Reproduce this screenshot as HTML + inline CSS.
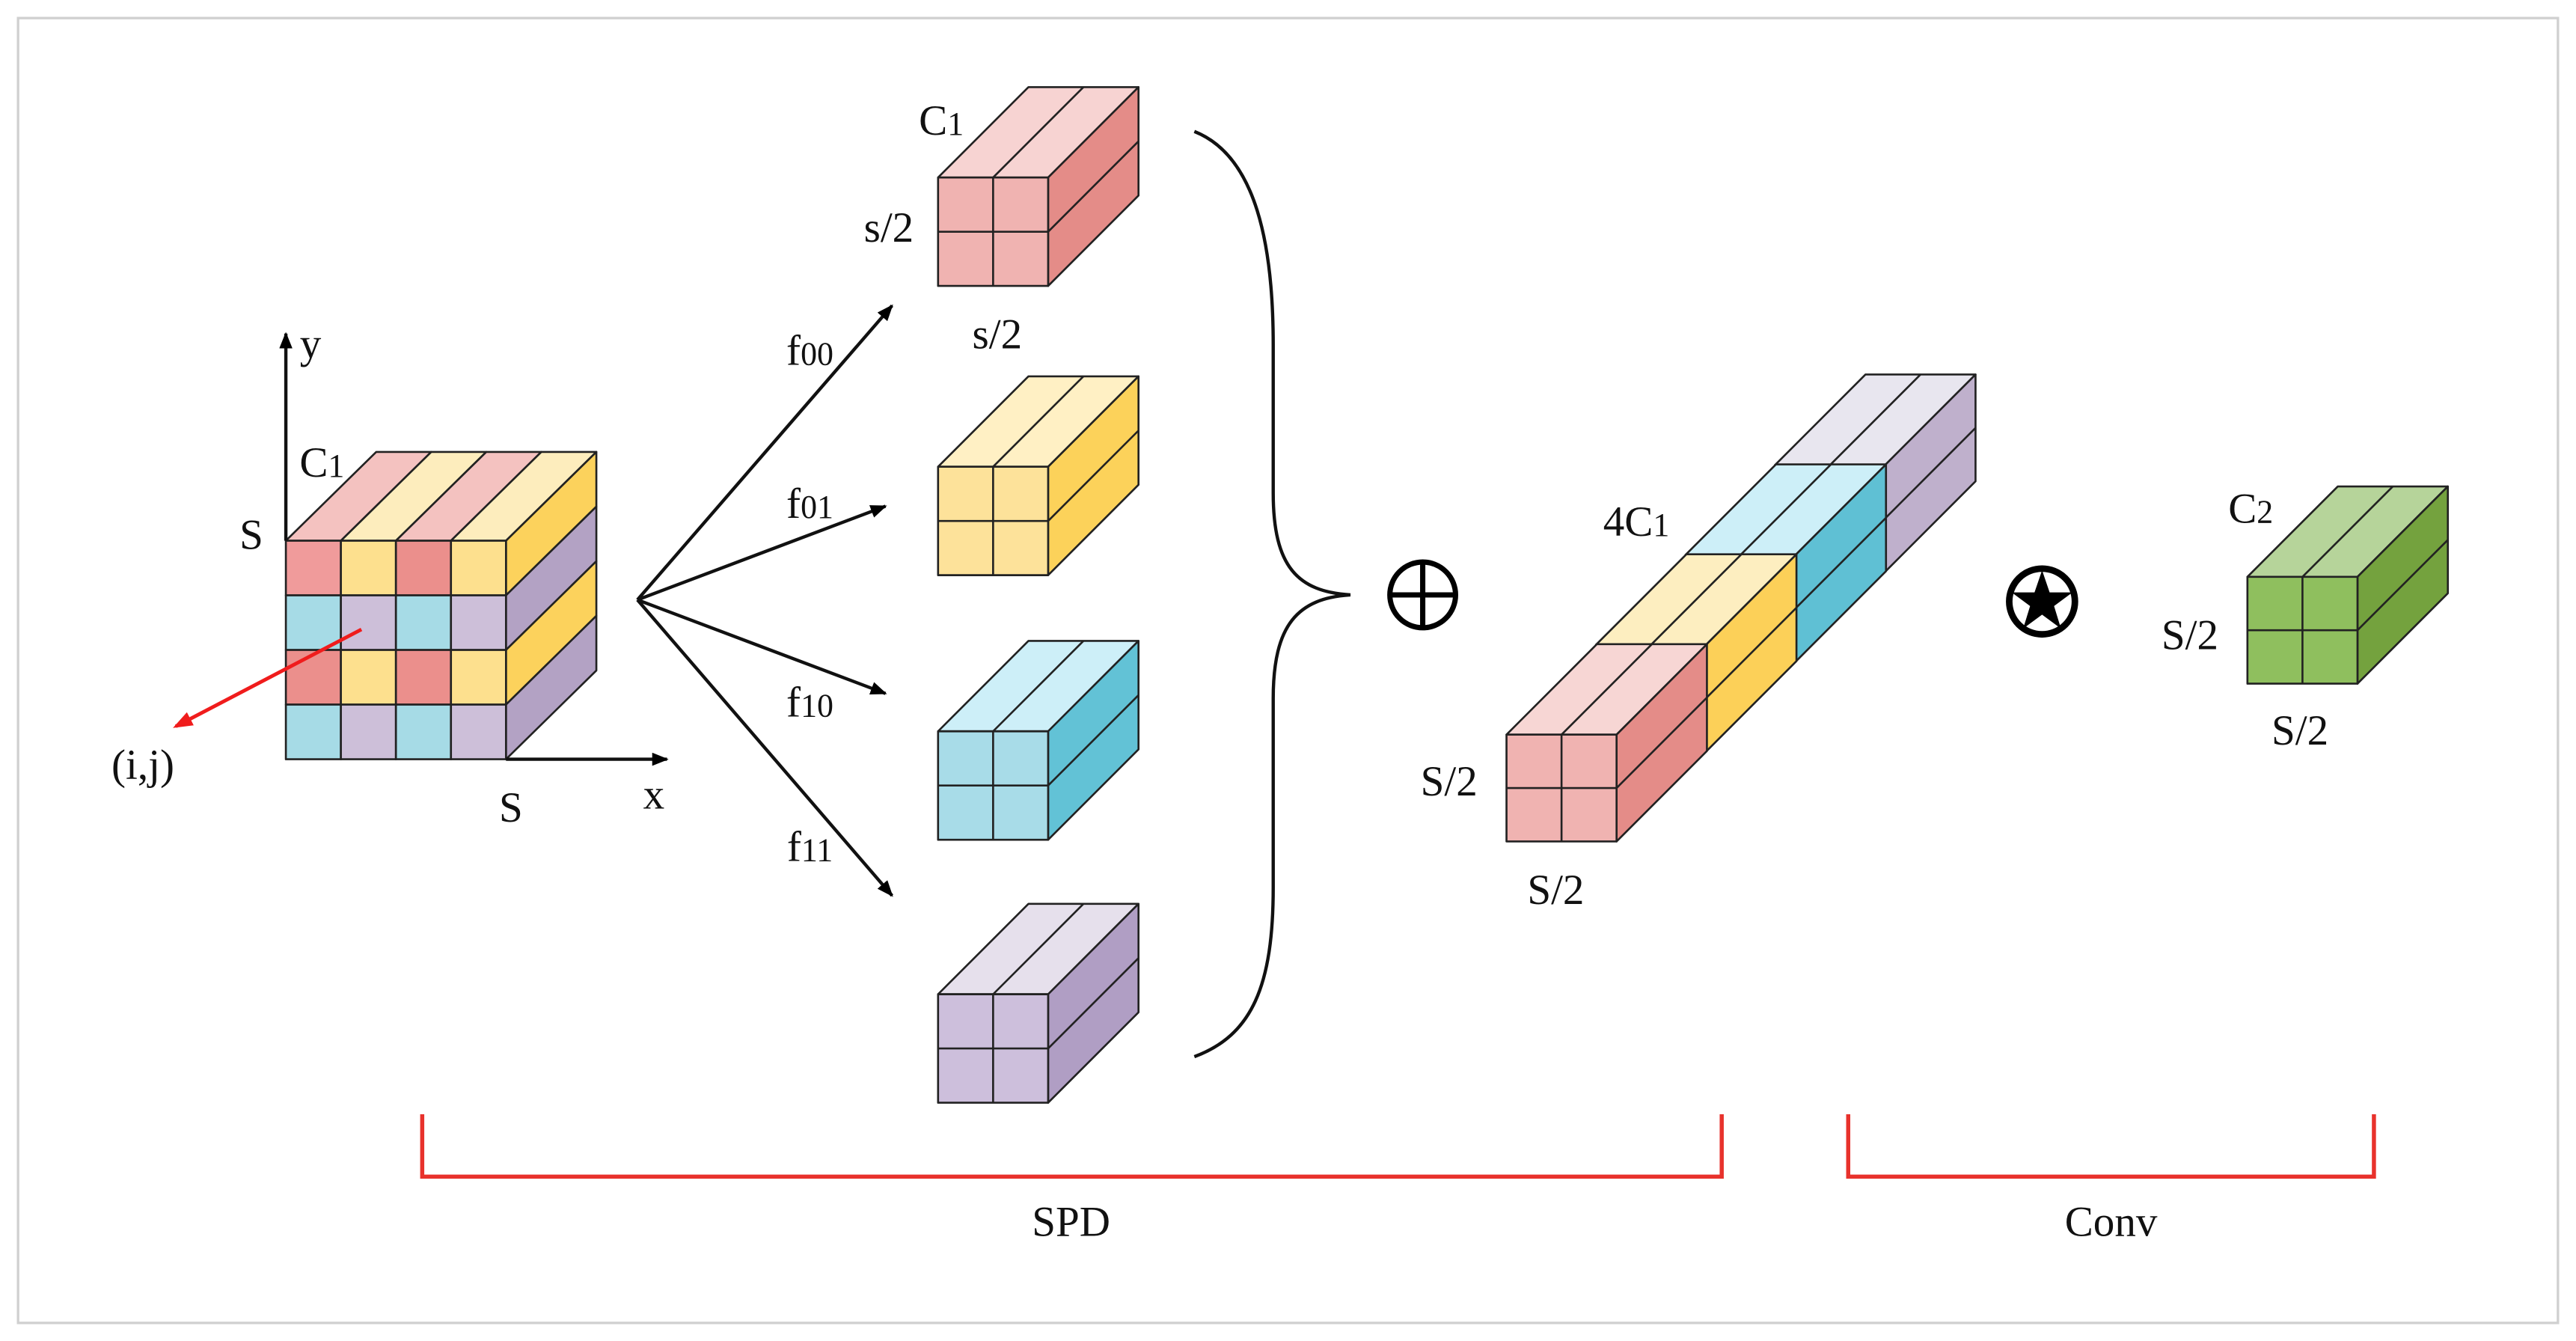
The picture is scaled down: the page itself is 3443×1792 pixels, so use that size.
<!DOCTYPE html>
<html><head><meta charset="utf-8"><style>
html,body{margin:0;padding:0;background:#fff;}
svg{display:block;}
text{font-family:"Liberation Serif",serif;fill:#111;}
</style></head><body>
<svg width="3443" height="1792" viewBox="0 0 1568 816" preserveAspectRatio="none" xmlns="http://www.w3.org/2000/svg">
<defs>
<marker id="ah" markerWidth="10" markerHeight="8" refX="9" refY="4" orient="auto" markerUnits="userSpaceOnUse"><path d="M0,0 L10,4 L0,8 Z" fill="#000"/></marker>
<marker id="ahr" markerWidth="12" markerHeight="9" refX="10" refY="4.5" orient="auto" markerUnits="userSpaceOnUse"><path d="M0,0 L12,4.5 L0,9 Z" fill="#f01c1c"/></marker>
</defs>
<rect x="0" y="0" width="1568" height="816" fill="#fff"/>
<rect x="11" y="11" width="1546" height="794" fill="none" stroke="#d0d0d0" stroke-width="1.5"/>

<g stroke="#222" stroke-width="1.2" stroke-linejoin="round">
<!-- main cube -->
<g transform="translate(174,329)">
<polygon points="0,0 55,-54 88.5,-54 33.5,0" fill="#f4c2c0"/>
<polygon points="33.5,0 88.5,-54 122,-54 67,0" fill="#fdedbd"/>
<polygon points="67,0 122,-54 155.5,-54 100.5,0" fill="#f4c2c0"/>
<polygon points="100.5,0 155.5,-54 189,-54 134,0" fill="#fdedbd"/>
<polygon points="134,0 189,-54 189,-20.75 134,33.25" fill="#fcd25c"/>
<polygon points="134,33.25 189,-20.75 189,12.5 134,66.5" fill="#b3a2c4"/>
<polygon points="134,66.5 189,12.5 189,45.75 134,99.75" fill="#fcd25c"/>
<polygon points="134,99.75 189,45.75 189,79 134,133" fill="#b3a2c4"/>
<rect x="0" y="0" width="33.5" height="33.25" fill="#f09b9b"/>
<rect x="33.5" y="0" width="33.5" height="33.25" fill="#fde08e"/>
<rect x="67" y="0" width="33.5" height="33.25" fill="#eb8f8c"/>
<rect x="100.5" y="0" width="33.5" height="33.25" fill="#fde08e"/>
<rect x="0" y="33.25" width="33.5" height="33.25" fill="#a6dbe6"/>
<rect x="33.5" y="33.25" width="33.5" height="33.25" fill="#cdbfd9"/>
<rect x="67" y="33.25" width="33.5" height="33.25" fill="#a6dbe6"/>
<rect x="100.5" y="33.25" width="33.5" height="33.25" fill="#cdbfd9"/>
<rect x="0" y="66.5" width="33.5" height="33.25" fill="#eb8f8c"/>
<rect x="33.5" y="66.5" width="33.5" height="33.25" fill="#fde08e"/>
<rect x="67" y="66.5" width="33.5" height="33.25" fill="#eb8f8c"/>
<rect x="100.5" y="66.5" width="33.5" height="33.25" fill="#fde08e"/>
<rect x="0" y="99.75" width="33.5" height="33.25" fill="#a6dbe6"/>
<rect x="33.5" y="99.75" width="33.5" height="33.25" fill="#cdbfd9"/>
<rect x="67" y="99.75" width="33.5" height="33.25" fill="#a6dbe6"/>
<rect x="100.5" y="99.75" width="33.5" height="33.25" fill="#cdbfd9"/>
</g>

<!-- small cubes -->
<g transform="translate(571,108)">
<polygon points="0,0 55,-55 122,-55 67,0" fill="#f7d3d2"/><line x1="33.5" y1="0" x2="88.5" y2="-55"/>
<polygon points="67,0 122,-55 122,11 67,66" fill="#e48c88"/><line x1="67" y1="33" x2="122" y2="-22"/>
<rect x="0" y="0" width="67" height="66" fill="#f0b3b1"/><line x1="33.5" y1="0" x2="33.5" y2="66"/><line x1="0" y1="33" x2="67" y2="33"/>
</g>
<g transform="translate(571,284)">
<polygon points="0,0 55,-55 122,-55 67,0" fill="#fff0c4"/><line x1="33.5" y1="0" x2="88.5" y2="-55"/>
<polygon points="67,0 122,-55 122,11 67,66" fill="#fcd25a"/><line x1="67" y1="33" x2="122" y2="-22"/>
<rect x="0" y="0" width="67" height="66" fill="#fde29a"/><line x1="33.5" y1="0" x2="33.5" y2="66"/><line x1="0" y1="33" x2="67" y2="33"/>
</g>
<g transform="translate(571,445)">
<polygon points="0,0 55,-55 122,-55 67,0" fill="#cdeff8"/><line x1="33.5" y1="0" x2="88.5" y2="-55"/>
<polygon points="67,0 122,-55 122,11 67,66" fill="#62c2d6"/><line x1="67" y1="33" x2="122" y2="-22"/>
<rect x="0" y="0" width="67" height="66" fill="#a8dce8"/><line x1="33.5" y1="0" x2="33.5" y2="66"/><line x1="0" y1="33" x2="67" y2="33"/>
</g>
<g transform="translate(571,605)">
<polygon points="0,0 55,-55 122,-55 67,0" fill="#e6e0ec"/><line x1="33.5" y1="0" x2="88.5" y2="-55"/>
<polygon points="67,0 122,-55 122,11 67,66" fill="#b09ec4"/><line x1="67" y1="33" x2="122" y2="-22"/>
<rect x="0" y="0" width="67" height="66" fill="#cdbfdc"/><line x1="33.5" y1="0" x2="33.5" y2="66"/><line x1="0" y1="33" x2="67" y2="33"/>
</g>

<!-- long bar, back to front -->
<g transform="translate(1080.5,282.9)">
<polygon points="0,0 55,-55 122,-55 67,0" fill="#e8e6ef"/><line x1="33.5" y1="0" x2="88.5" y2="-55"/>
<polygon points="67,0 122,-55 122,10 67,65" fill="#bfb0cc"/><line x1="67" y1="32.5" x2="122" y2="-22.5"/>
<rect x="0" y="0" width="67" height="65" fill="#cdbfdc"/>
</g>
<g transform="translate(1026,337.6)">
<polygon points="0,0 55,-55 122,-55 67,0" fill="#cdeff8"/><line x1="33.5" y1="0" x2="88.5" y2="-55"/>
<polygon points="67,0 122,-55 122,10 67,65" fill="#5fc0d4"/><line x1="67" y1="32.5" x2="122" y2="-22.5"/>
<rect x="0" y="0" width="67" height="65" fill="#a8dce8"/>
</g>
<g transform="translate(971.5,392.3)">
<polygon points="0,0 55,-55 122,-55 67,0" fill="#fdeec0"/><line x1="33.5" y1="0" x2="88.5" y2="-55"/>
<polygon points="67,0 122,-55 122,10 67,65" fill="#fcd058"/><line x1="67" y1="32.5" x2="122" y2="-22.5"/>
<rect x="0" y="0" width="67" height="65" fill="#fde29a"/>
</g>
<g transform="translate(917,447)">
<polygon points="0,0 55,-55 122,-55 67,0" fill="#f7d6d4"/><line x1="33.5" y1="0" x2="88.5" y2="-55"/>
<polygon points="67,0 122,-55 122,10 67,65" fill="#e48c88"/><line x1="67" y1="32.5" x2="122" y2="-22.5"/>
<rect x="0" y="0" width="67" height="65" fill="#f0b3b1"/><line x1="33.5" y1="0" x2="33.5" y2="65"/><line x1="0" y1="32.5" x2="67" y2="32.5"/>
</g>

<!-- green cube -->
<g transform="translate(1368,351)">
<polygon points="0,0 55,-55 122,-55 67,0" fill="#b6d49a"/><line x1="33.5" y1="0" x2="88.5" y2="-55"/>
<polygon points="67,0 122,-55 122,10 67,65" fill="#74a23e"/><line x1="67" y1="32.5" x2="122" y2="-22.5"/>
<rect x="0" y="0" width="67" height="65" fill="#8fbf5e"/><line x1="33.5" y1="0" x2="33.5" y2="65"/><line x1="0" y1="32.5" x2="67" y2="32.5"/>
</g>
</g>

<!-- axes -->
<g stroke="#111" stroke-width="2" fill="none">
<line x1="174" y1="329" x2="174" y2="203" marker-end="url(#ah)"/>
<line x1="308" y1="462" x2="406" y2="462" marker-end="url(#ah)"/>
<line x1="388" y1="365" x2="543" y2="186" marker-end="url(#ah)"/>
<line x1="388" y1="365" x2="539" y2="308" marker-end="url(#ah)"/>
<line x1="388" y1="365" x2="539" y2="422" marker-end="url(#ah)"/>
<line x1="388" y1="365" x2="543" y2="545" marker-end="url(#ah)"/>
<path d="M727,80 C765,95 775,150 775,210 L775,300 C775,345 790,360 822,362 C790,364 775,380 775,425 L775,540 C775,600 762,630 727,643" stroke-width="2"/>
</g>
<line x1="220" y1="383" x2="107" y2="442" stroke="#f01c1c" stroke-width="2.2" marker-end="url(#ahr)"/>

<!-- operators -->
<g stroke="#000" stroke-width="3.2" fill="none">
<circle cx="866" cy="362" r="20"/>
<line x1="846" y1="362" x2="886" y2="362"/>
<line x1="866" y1="342" x2="866" y2="382"/>
<circle cx="1243" cy="366" r="20" stroke-width="4"/>
</g>
<polygon points="1243,347 1247.6,360.5 1261.5,360.5 1250.3,368.8 1254.5,382.5 1243,374 1231.5,382.5 1235.7,368.8 1224.5,360.5 1238.4,360.5" fill="#000"/>

<!-- red brackets -->
<g stroke="#e8322c" stroke-width="2.5" fill="none">
<polyline points="257,678 257,716 1048,716 1048,678"/>
<polyline points="1125,678 1125,716 1445,716 1445,678"/>
</g>

<!-- labels -->
<g font-size="26" text-anchor="middle">
<text x="189" y="218">y</text>
<text x="196" y="290">C<tspan font-size="20">1</tspan></text>
<text x="153" y="334">S</text>
<text x="87" y="474">(i,j)</text>
<text x="311" y="500">S</text>
<text x="398" y="492">x</text>
<text x="493" y="222">f<tspan font-size="20">00</tspan></text>
<text x="493" y="315">f<tspan font-size="20">01</tspan></text>
<text x="493" y="436">f<tspan font-size="20">10</tspan></text>
<text x="493" y="524">f<tspan font-size="20">11</tspan></text>
<text x="573" y="82">C<tspan font-size="20">1</tspan></text>
<text x="541" y="147">s/2</text>
<text x="607" y="212">s/2</text>
<text x="996" y="326">4C<tspan font-size="20">1</tspan></text>
<text x="882" y="484">S/2</text>
<text x="947" y="550">S/2</text>
<text x="1370" y="318">C<tspan font-size="20">2</tspan></text>
<text x="1333" y="395">S/2</text>
<text x="1400" y="453">S/2</text>
<text x="652" y="752">SPD</text>
<text x="1285" y="752">Conv</text>
</g>
</svg>
</body></html>
